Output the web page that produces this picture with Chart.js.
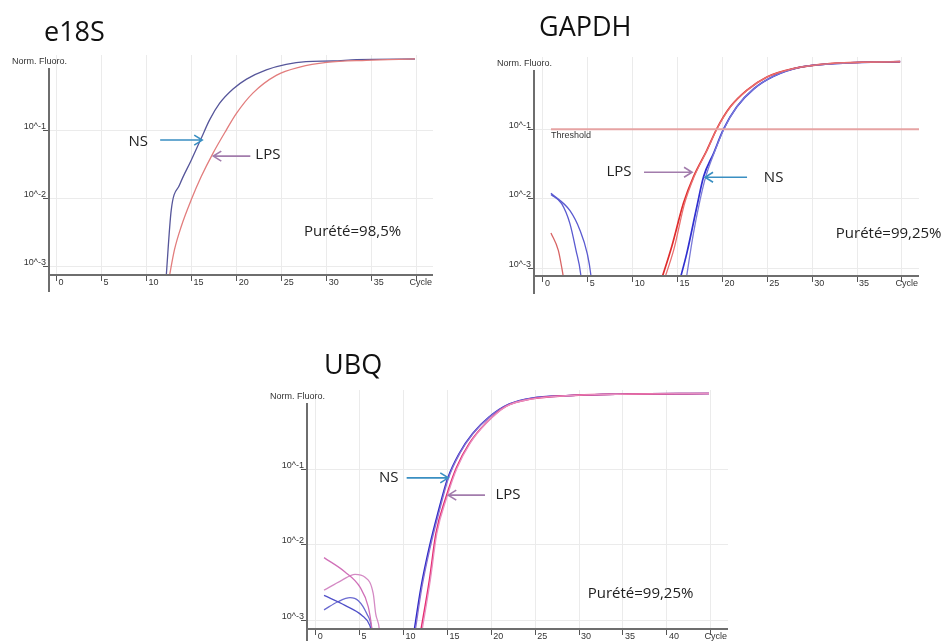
<!DOCTYPE html>
<html>
<head>
<meta charset="utf-8">
<script src="https://cdn.jsdelivr.net/npm/chart.js@4.4.1/dist/chart.umd.min.js"></script>
<style>
  html, body { margin: 0; padding: 0; background: #fff; }
  body { width: 946px; height: 641px; position: relative; overflow: hidden; }
  canvas { position: absolute; }
  .title { position: absolute; z-index: 2; font-family: "Open Sans", sans-serif; font-size: 27px; line-height: 30px; color: #111; white-space: nowrap; }
</style>
</head>
<body>
<canvas id="e18s" width="440" height="300" style="left:0;top:0"></canvas>
<canvas id="gapdh" width="466" height="300" style="left:480px;top:0"></canvas>
<canvas id="ubq" width="490" height="301" style="left:250px;top:340px"></canvas>
<div class="title" style="left:44px;top:16px">e18S</div>
<div class="title" style="left:539px;top:11px">GAPDH</div>
<div class="title" style="left:324px;top:349px">UBQ</div>
<script>
// ---- axis ticks ----
const yTickValues = [0.001, 0.01, 0.1];
const yTickLabels = ['10^-3', '10^-2', '10^-1'];
const xTickValues40 = [0, 5, 10, 15, 20, 25, 30, 35, 40];
const xTickLabels40 = ['0', '5', '10', '15', '20', '25', '30', '35', ''];
const xTickValues45 = [0, 5, 10, 15, 20, 25, 30, 35, 40, 45];
const xTickLabels45 = ['0', '5', '10', '15', '20', '25', '30', '35', '40', ''];

// ---- e18S amplification curves (cycle, normalised fluorescence) ----
const e18sNsCycles = [12.15, 12.74, 13.67, 14.96, 16.07, 17.0, 18.1, 19.6, 21.1, 23.3, 25.5, 27.7, 30.7, 33.3, 39.8];
const e18sNsFluo   = [0.000631, 0.00676, 0.0158, 0.0363, 0.0759, 0.141, 0.245, 0.398, 0.556, 0.759, 0.912, 1.0, 1.023, 1.072, 1.096];
const e18sLpsCycles = [12.45, 13.1, 13.85, 14.96, 16.07, 17.37, 18.85, 19.96, 21.8, 24.4, 27.0, 30.0, 34.4, 39.8];
const e18sLpsFluo   = [0.000631, 0.00178, 0.00389, 0.00955, 0.0209, 0.0457, 0.1, 0.174, 0.347, 0.631, 0.832, 0.977, 1.047, 1.096];

// ---- GAPDH ----
const gapdhLpsACycles = [13.1, 14.36, 15.66, 16.78, 18.27, 19.38, 20.87, 22.73, 24.96, 27.9, 32.0, 39.8];
const gapdhLpsAFluo   = [0.000631, 0.00209, 0.00871, 0.0209, 0.0501, 0.102, 0.209, 0.363, 0.562, 0.741, 0.871, 0.933];
const gapdhLpsBCycles = [13.41, 14.6, 15.75, 16.85, 18.3, 19.4, 20.9, 22.75, 24.98, 27.9, 32.0, 39.8];
const gapdhLpsBFluo   = [0.000631, 0.00191, 0.00832, 0.0209, 0.0501, 0.102, 0.209, 0.363, 0.562, 0.741, 0.871, 0.933];
const gapdhNsACycles = [15.18, 16.03, 17.15, 17.9, 19.0, 20.12, 21.6, 23.5, 25.7, 28.7, 33.9, 39.8];
const gapdhNsAFluo   = [0.000631, 0.00166, 0.00776, 0.0209, 0.0447, 0.1, 0.209, 0.38, 0.575, 0.776, 0.891, 0.933];
const gapdhNsBCycles = [15.9, 16.76, 17.5, 18.1, 19.05, 20.15, 21.6, 23.5, 25.7, 28.7, 33.9, 39.8];
const gapdhNsBFluo   = [0.000631, 0.00316, 0.00955, 0.02, 0.0447, 0.1, 0.209, 0.38, 0.575, 0.776, 0.891, 0.933];
const gapdhEarlyBlue1Cycles = [0.89, 3.01, 4.12, 4.94, 5.32, 5.4];
const gapdhEarlyBlue1Fluo   = [0.012, 0.00676, 0.00355, 0.00162, 0.000832, 0.000631];
const gapdhEarlyBlue2Cycles = [0.89, 2.08, 3.01, 3.68, 4.2, 4.28];
const gapdhEarlyBlue2Fluo   = [0.0115, 0.00851, 0.00437, 0.00182, 0.000832, 0.000631];
const gapdhEarlyRedCycles = [0.89, 1.71, 2.08, 2.27, 2.32];
const gapdhEarlyRedFluo   = [0.00324, 0.00182, 0.00105, 0.000741, 0.000631];
const gapdhThresholdCycles = [0.89, 41.9];
const gapdhThresholdFluo   = [0.1, 0.1];

// ---- UBQ ----
const ubqNsACycles = [11.14, 12.0, 12.95, 13.9, 15.04, 16.36, 17.88, 19.77, 22.05, 24.7, 28.5, 34.2, 44.8];
const ubqNsAFluo   = [0.000631, 0.00275, 0.00933, 0.0257, 0.0759, 0.162, 0.295, 0.49, 0.724, 0.871, 0.933, 0.977, 1.0];
const ubqNsBCycles = [11.26, 12.1, 13.05, 14.0, 15.12, 16.42, 17.92, 19.8, 22.07, 24.7, 28.5, 34.2, 44.8];
const ubqNsBFluo   = [0.000631, 0.00275, 0.00933, 0.0257, 0.0759, 0.162, 0.295, 0.49, 0.724, 0.871, 0.933, 0.977, 1.0];
const ubqLpsACycles = [11.88, 12.95, 13.7, 14.85, 15.99, 17.5, 19.4, 21.67, 24.7, 28.5, 34.2, 44.8];
const ubqLpsAFluo   = [0.000631, 0.00339, 0.0141, 0.0427, 0.102, 0.219, 0.407, 0.676, 0.851, 0.933, 0.977, 1.0];
const ubqLpsBCycles = [12.02, 13.05, 13.8, 14.95, 16.08, 17.58, 19.45, 21.7, 24.7, 28.5, 34.2, 44.8];
const ubqLpsBFluo   = [0.000631, 0.00339, 0.0141, 0.0427, 0.102, 0.219, 0.407, 0.676, 0.851, 0.933, 0.977, 1.0];
const ubqEarlyPink1Cycles = [0.95, 3.34, 5.05, 5.99, 6.4, 6.48];
const ubqEarlyPink1Fluo   = [0.00676, 0.00437, 0.00275, 0.00151, 0.000776, 0.000631];
const ubqEarlyPink2Cycles = [0.95, 2.96, 4.48, 5.62, 6.56, 6.83, 7.25, 7.3];
const ubqEarlyPink2Fluo   = [0.00251, 0.00339, 0.00407, 0.00372, 0.00224, 0.00123, 0.000759, 0.000631];
const ubqEarlyBlue1Cycles = [0.95, 3.34, 5.24, 6.18, 6.45];
const ubqEarlyBlue1Fluo   = [0.00214, 0.00158, 0.00117, 0.000851, 0.000631];
const ubqEarlyBlue2Cycles = [0.95, 2.58, 3.91, 4.86, 5.81, 6.38, 6.45];
const ubqEarlyBlue2Fluo   = [0.00138, 0.00178, 0.002, 0.00182, 0.00123, 0.000776, 0.000631];

// ---- drawing helpers ----
const NS_ARROW = '#3a8fc2';
const LPS_ARROW = '#a27cac';

function toPoints(cycles, fluo) {
  return cycles.map((c, i) => ({ x: c, y: fluo[i] }));
}

// Axis lines, corner labels, arrows and notes of each amplification plot
const plotDecor = {
  id: 'plotDecor',
  afterDatasetsDraw(chart, args, opts) {
    const { ctx, chartArea: a, scales: { x, y } } = chart;
    ctx.save();
    // axes
    ctx.strokeStyle = '#6e6e6e';
    ctx.lineWidth = 2;
    ctx.beginPath();
    ctx.moveTo(a.left, a.top + 13);
    ctx.lineTo(a.left, a.bottom + opts.axisDrop);
    ctx.moveTo(a.left, a.bottom);
    ctx.lineTo(a.right, a.bottom);
    ctx.stroke();

    // small axis captions
    ctx.fillStyle = '#333';
    ctx.font = '9px "Liberation Sans", Arial, sans-serif';
    ctx.textBaseline = 'middle';
    ctx.textAlign = 'left';
    ctx.fillText('Norm. Fluoro.', a.left - 37, a.top + 7);
    ctx.textAlign = 'right';
    ctx.fillText('Cycle', a.right - 1, a.bottom + 8);

    if (opts.threshold) {
      ctx.textAlign = 'left';
      ctx.fillText(opts.threshold.text, x.getPixelForValue(opts.threshold.x), y.getPixelForValue(opts.threshold.y) + 6);
    }

    // arrows
    (opts.arrows || []).forEach(ar => {
      const x1 = x.getPixelForValue(ar.x1), x2 = x.getPixelForValue(ar.x2);
      const py = y.getPixelForValue(ar.y);
      const dir = x2 > x1 ? 1 : -1;
      ctx.strokeStyle = ar.color;
      ctx.lineWidth = 1.6;
      ctx.beginPath();
      ctx.moveTo(x1, py);
      ctx.lineTo(x2, py);
      ctx.moveTo(x2 - dir * 8, py - 5);
      ctx.lineTo(x2, py);
      ctx.lineTo(x2 - dir * 8, py + 5);
      ctx.stroke();
    });

    // notes
    ctx.fillStyle = '#222';
    ctx.font = '15px "Open Sans", sans-serif';
    ctx.textAlign = 'center';
    (opts.notes || []).forEach(n => {
      ctx.fillText(n.text, x.getPixelForValue(n.x), y.getPixelForValue(n.y));
    });
    ctx.restore();
  }
};

function makePlot(id, cfg) {
  return new Chart(document.getElementById(id), {
    type: 'line',
    data: {
      datasets: cfg.series.map(s => ({
        data: toPoints(s.cycles, s.fluo),
        borderColor: s.color,
        borderWidth: s.width || 1.3,
        pointRadius: 0,
        fill: false,
        cubicInterpolationMode: 'monotone'
      }))
    },
    options: {
      responsive: false,
      animation: false,
      devicePixelRatio: 1,
      layout: { padding: { left: 0, top: cfg.top, right: cfg.right, bottom: 0 } },
      plugins: {
        legend: { display: false },
        tooltip: { enabled: false },
        plotDecor: cfg.decor
      },
      scales: {
        x: {
          type: 'linear',
          min: cfg.xMin,
          max: cfg.xMax,
          afterBuildTicks: s => { s.ticks = cfg.xTicks.map(v => ({ value: v })); },
          afterFit: s => { s.height = cfg.xAxisHeight; s.paddingLeft = 0; s.paddingRight = 0; },
          ticks: {
            autoSkip: false, maxRotation: 0, minRotation: 0,
            align: 'start', labelOffset: 2, padding: -4,
            color: '#333',
            font: { family: 'Liberation Sans', size: 9 },
            callback: (v, i) => cfg.xLabels[i]
          },
          grid: { color: '#ebebeb', lineWidth: 1, tickColor: '#555', tickLength: 6 },
          border: { display: false }
        },
        y: {
          type: 'logarithmic',
          min: cfg.yMin,
          max: cfg.yMax,
          afterBuildTicks: s => { s.ticks = yTickValues.map(v => ({ value: v })); },
          afterFit: s => { s.width = cfg.yAxisWidth; s.paddingTop = 0; s.paddingBottom = 0; },
          ticks: {
            autoSkip: false,
            labelOffset: -4, padding: -3,
            color: '#333',
            font: { family: 'Liberation Sans', size: 9 },
            callback: (v, i) => yTickLabels[i]
          },
          grid: { color: '#ebebeb', lineWidth: 1, tickColor: '#555', tickLength: 6 },
          border: { display: false }
        }
      }
    },
    plugins: [plotDecor]
  });
}

// e18S
makePlot('e18s', {
  top: 55, right: 7, yAxisWidth: 49, xAxisHeight: 25,
  xMin: -0.83, xMax: 41.8, yMin: 0.000759, yMax: 1.253,
  xTicks: xTickValues40, xLabels: xTickLabels40,
  series: [
    { cycles: e18sLpsCycles, fluo: e18sLpsFluo, color: '#e27d7d' },
    { cycles: e18sNsCycles, fluo: e18sNsFluo, color: '#56569a' }
  ],
  decor: {
    axisDrop: 17,
    arrows: [
      { x1: 11.51, x2: 16.18, y: 0.0714, color: NS_ARROW },
      { x1: 21.52, x2: 17.41, y: 0.0416, color: LPS_ARROW }
    ],
    notes: [
      { text: 'NS', x: 9.07, y: 0.0667 },
      { text: 'LPS', x: 23.47, y: 0.043 },
      { text: 'Purété=98,5%', x: 32.87, y: 0.00321 }
    ]
  }
});

// GAPDH
makePlot('gapdh', {
  top: 57, right: 27, yAxisWidth: 54, xAxisHeight: 24,
  xMin: -1.0, xMax: 41.9, yMin: 0.00078, yMax: 1.086,
  xTicks: xTickValues40, xLabels: xTickLabels40,
  series: [
    { cycles: gapdhThresholdCycles, fluo: gapdhThresholdFluo, color: '#e6a3a3', width: 2 },
    { cycles: gapdhEarlyRedCycles, fluo: gapdhEarlyRedFluo, color: '#d86464' },
    { cycles: gapdhEarlyBlue1Cycles, fluo: gapdhEarlyBlue1Fluo, color: '#5a5ad0' },
    { cycles: gapdhEarlyBlue2Cycles, fluo: gapdhEarlyBlue2Fluo, color: '#5a5ad0' },
    { cycles: gapdhLpsBCycles, fluo: gapdhLpsBFluo, color: '#e87070' },
    { cycles: gapdhNsBCycles, fluo: gapdhNsBFluo, color: '#7a7ad8' },
    { cycles: gapdhLpsACycles, fluo: gapdhLpsAFluo, color: '#e02c2c', width: 1.7 },
    { cycles: gapdhNsACycles, fluo: gapdhNsAFluo, color: '#3030d0', width: 1.7 }
  ],
  decor: {
    axisDrop: 18,
    threshold: { text: 'Threshold', x: 0.89, y: 0.1 },
    arrows: [
      { x1: 11.26, x2: 16.61, y: 0.0241, color: LPS_ARROW },
      { x1: 22.74, x2: 18.06, y: 0.0204, color: NS_ARROW }
    ],
    notes: [
      { text: 'LPS', x: 8.47, y: 0.0241 },
      { text: 'NS', x: 25.7, y: 0.0204 },
      { text: 'Purété=99,25%', x: 38.52, y: 0.00319 }
    ]
  }
});

// UBQ
makePlot('ubq', {
  top: 50, right: 12, yAxisWidth: 57, xAxisHeight: 12,
  xMin: -0.99, xMax: 46.96, yMin: 0.00077, yMax: 1.112,
  xTicks: xTickValues45, xLabels: xTickLabels45,
  series: [
    { cycles: ubqEarlyPink1Cycles, fluo: ubqEarlyPink1Fluo, color: '#d070b8' },
    { cycles: ubqEarlyPink2Cycles, fluo: ubqEarlyPink2Fluo, color: '#d48ac4' },
    { cycles: ubqEarlyBlue1Cycles, fluo: ubqEarlyBlue1Fluo, color: '#5050c8' },
    { cycles: ubqEarlyBlue2Cycles, fluo: ubqEarlyBlue2Fluo, color: '#6a6ad0' },
    { cycles: ubqLpsBCycles, fluo: ubqLpsBFluo, color: '#e890c0' },
    { cycles: ubqLpsACycles, fluo: ubqLpsAFluo, color: '#e6286e', width: 1.6 },
    { cycles: ubqNsBCycles, fluo: ubqNsBFluo, color: '#8a70d0' },
    { cycles: ubqNsACycles, fluo: ubqNsAFluo, color: '#2a2ac8', width: 1.6 }
  ],
  decor: {
    axisDrop: 20,
    arrows: [
      { x1: 10.36, x2: 15.1, y: 0.0767, color: NS_ARROW },
      { x1: 19.28, x2: 15.1, y: 0.0453, color: LPS_ARROW }
    ],
    notes: [
      { text: 'NS', x: 8.33, y: 0.0767 },
      { text: 'LPS', x: 21.9, y: 0.0453 },
      { text: 'Purété=99,25%', x: 37.0, y: 0.00226 }
    ]
  }
});
</script>
</body>
</html>
